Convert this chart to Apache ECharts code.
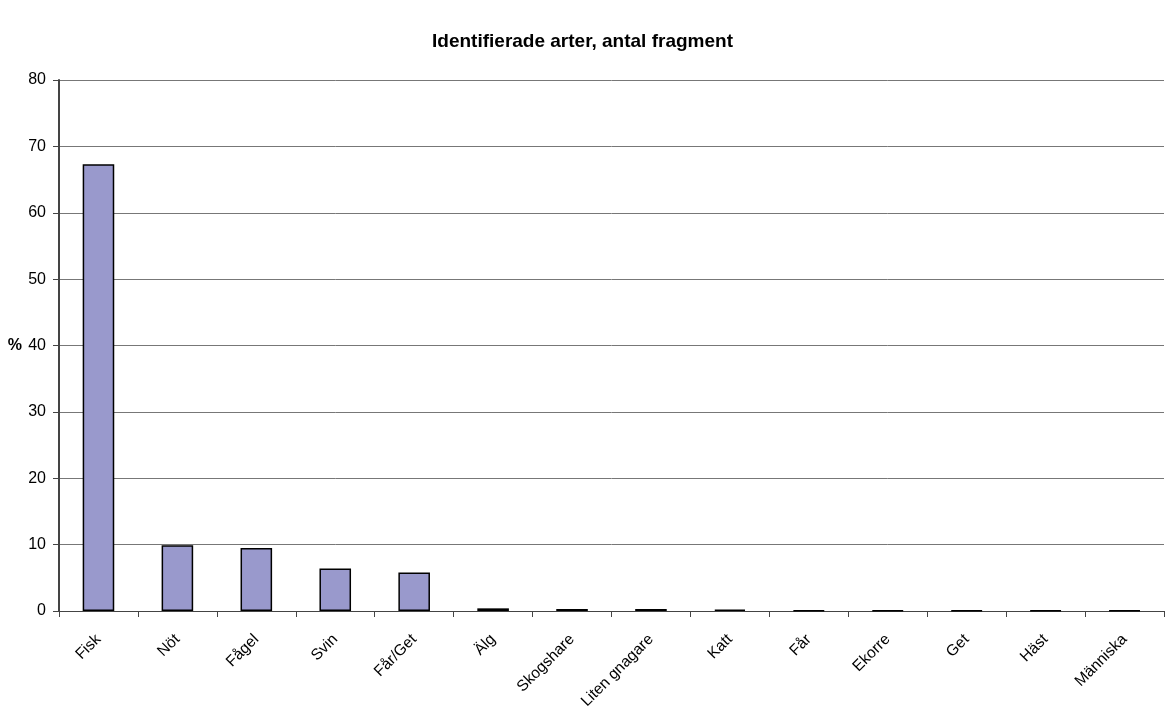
<!DOCTYPE html>
<html><head><meta charset="utf-8">
<script src="https://cdn.jsdelivr.net/npm/echarts@6/dist/echarts.min.js"></script>
<style>html,body{margin:0;padding:0;background:#fff}#c{width:1165px;height:711px}</style>
</head><body><div id="c"></div>
<script>
const categories = ['Fisk','Nöt','Fågel','Svin','Får/Get','Älg','Skogshare','Liten gnagare','Katt','Får','Ekorre','Get','Häst','Människa'];
const values = [67.3, 9.9, 9.5, 6.4, 5.8, 0.4, 0.3, 0.3, 0.2, 0.1, 0.1, 0.1, 0.1, 0.1];
const chart = echarts.init(document.getElementById('c'));
const font = 'Liberation Sans, Arial, sans-serif';
chart.setOption({
  animation: false,
  title: {text: 'Identifierade arter, antal fragment', left: 'center', top: 27,
    textStyle: {fontFamily: font, fontSize: 19, fontWeight: 'bold', color: '#000'}},
  grid: {left: 59, right: 1, top: 80, bottom: 100, containLabel: false, outerBoundsMode: 'none'},
  xAxis: {type: 'category', data: categories,
    axisLine: {lineStyle: {color: '#444', width: 1}},
    axisTick: {show: true, alignWithLabel: false, length: 6, lineStyle: {color: '#444'}},
    axisLabel: {rotate: 45, fontFamily: font, fontSize: 15.5, color: '#000', margin: 26, interval: 0}},
  yAxis: {type: 'value', min: 0, max: 80, interval: 10,
    name: '%', nameLocation: 'middle', nameRotate: 0, nameGap: 37,
    nameTextStyle: {fontFamily: font, fontSize: 16, fontWeight: 'bold', color: '#000'},
    axisLine: {show: true, lineStyle: {color: '#444', width: 2}},
    axisTick: {show: true, length: 6, lineStyle: {color: '#444'}},
    axisLabel: {fontFamily: font, fontSize: 16, color: '#000', margin: 13},
    splitLine: {lineStyle: {color: '#777', width: 1}}},
  series: [{type: 'bar', data: values, barWidth: '40%',
    itemStyle: {color: '#9999cc', borderColor: '#000', borderWidth: 1.5}}]
});
</script></body></html>
